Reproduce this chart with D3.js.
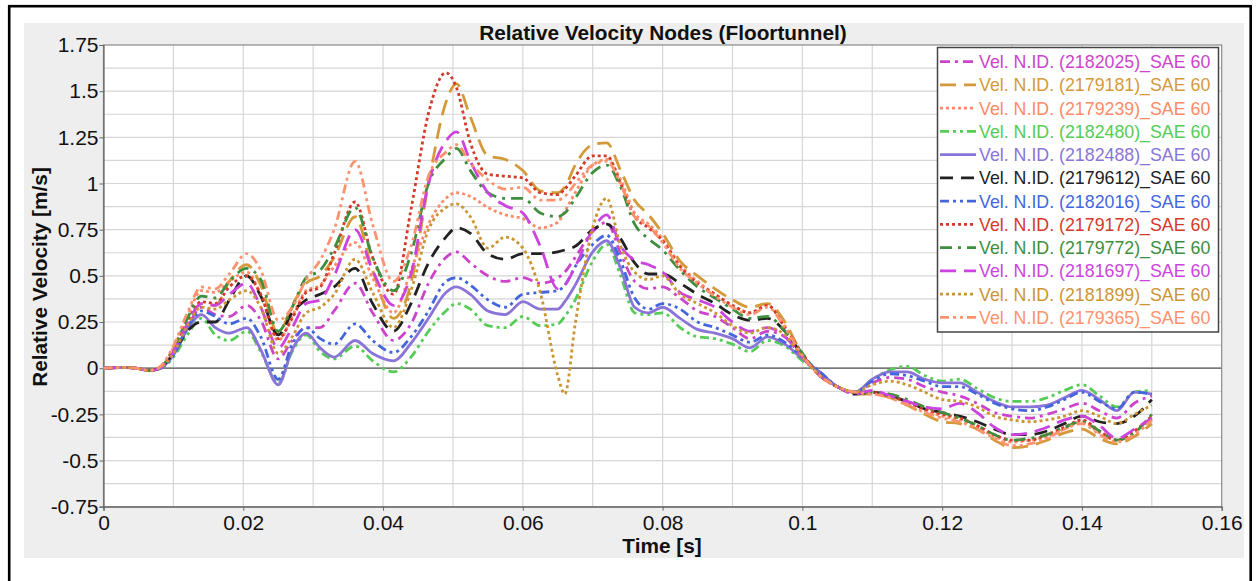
<!DOCTYPE html>
<html>
<head>
<meta charset="utf-8">
<script src="https://cdn.jsdelivr.net/npm/d3@7"></script>
<style>
  html, body { margin: 0; padding: 0; background: #fff; }
  svg { display: block; font-family: "Liberation Sans", Arial, sans-serif; }
</style>
</head>
<body>
<svg id="chart" width="1259" height="581"></svg>
<script>
// Sample times [s]
const time = [0, 0.003, 0.005, 0.0065, 0.008, 0.010, 0.012, 0.014, 0.016, 0.018, 0.0205, 0.0225, 0.025, 0.027, 0.029,
  0.031, 0.033, 0.036, 0.0385, 0.0415, 0.044, 0.0465, 0.049, 0.0505, 0.0525, 0.055, 0.0575, 0.060, 0.0625, 0.065,
  0.066, 0.0675, 0.070, 0.072, 0.074, 0.076, 0.078, 0.080, 0.0825, 0.085, 0.0875, 0.090, 0.0925, 0.095, 0.0975,
  0.100, 0.1025, 0.105, 0.1075, 0.110, 0.1125, 0.115, 0.1175, 0.120, 0.1225, 0.125, 0.1275, 0.130, 0.1325, 0.135,
  0.1375, 0.140, 0.1425, 0.145, 0.1475, 0.150];

// Relative velocity [m/s] per node (SAE 60 filtered)
const vel2182025 = [0, 0.004, -0.002, -0.013, 0.0, 0.08, 0.22, 0.33, 0.29, 0.28, 0.34, 0.26, 0.05, 0.15, 0.22,
  0.22, 0.31, 0.46, 0.30, 0.15, 0.24, 0.46, 0.60, 0.63, 0.57, 0.50, 0.47, 0.49, 0.46, 0.49,
  0.52, 0.60, 0.74, 0.79, 0.62, 0.47, 0.43, 0.44, 0.38, 0.31, 0.28, 0.22, 0.16, 0.20, 0.17,
  0.06, -0.03, -0.10, -0.13, -0.08, -0.05, -0.06, -0.10, -0.13, -0.15, -0.19, -0.24, -0.26, -0.27, -0.25,
  -0.22, -0.19, -0.23, -0.27, -0.19, -0.15];
const vel2179181 = [0, 0.004, -0.002, -0.013, 0.0, 0.09, 0.24, 0.35, 0.34, 0.47, 0.56, 0.45, 0.19, 0.34, 0.46,
  0.50, 0.60, 0.82, 0.53, 0.27, 0.46, 1.00, 1.44, 1.54, 1.36, 1.15, 1.13, 1.07, 0.96, 0.95,
  0.98, 1.10, 1.21, 1.22, 1.07, 0.91, 0.83, 0.73, 0.58, 0.50, 0.43, 0.37, 0.33, 0.35, 0.25,
  0.07, -0.04, -0.10, -0.14, -0.14, -0.16, -0.20, -0.25, -0.29, -0.30, -0.33, -0.39, -0.43, -0.42, -0.39,
  -0.35, -0.33, -0.38, -0.41, -0.37, -0.30];
const vel2179239 = [0, 0.004, -0.002, -0.012, 0.003, 0.11, 0.28, 0.42, 0.41, 0.47, 0.52, 0.40, 0.15, 0.28, 0.42,
  0.45, 0.55, 0.68, 0.49, 0.30, 0.53, 0.78, 0.92, 0.95, 0.93, 0.87, 0.83, 0.81, 0.76, 0.79,
  0.85, 0.95, 1.10, 1.13, 1.02, 0.84, 0.78, 0.70, 0.56, 0.47, 0.40, 0.34, 0.30, 0.34, 0.23,
  0.07, -0.04, -0.10, -0.13, -0.13, -0.15, -0.19, -0.23, -0.26, -0.28, -0.32, -0.37, -0.40, -0.39, -0.37,
  -0.33, -0.29, -0.35, -0.39, -0.35, -0.27];
const vel2182480 = [0, 0.004, -0.002, -0.013, -0.004, 0.06, 0.18, 0.27, 0.18, 0.15, 0.20, 0.09, -0.08, 0.09, 0.18,
  0.09, 0.05, 0.12, 0.04, -0.02, 0.06, 0.20, 0.31, 0.35, 0.32, 0.23, 0.22, 0.28, 0.23, 0.24,
  0.28, 0.37, 0.58, 0.67, 0.50, 0.30, 0.29, 0.30, 0.22, 0.17, 0.16, 0.13, 0.09, 0.15, 0.12,
  0.04, -0.02, -0.10, -0.13, -0.06, -0.01, 0.01, -0.04, -0.07, -0.06, -0.11, -0.16, -0.18, -0.18, -0.16,
  -0.12, -0.09, -0.15, -0.21, -0.13, -0.12];
const vel2182488 = [0, 0.004, -0.002, -0.013, -0.003, 0.07, 0.21, 0.29, 0.22, 0.19, 0.22, 0.10, -0.09, 0.10, 0.19,
  0.11, 0.06, 0.15, 0.08, 0.04, 0.135, 0.27, 0.41, 0.44, 0.40, 0.31, 0.29, 0.36, 0.32, 0.32,
  0.36, 0.45, 0.63, 0.69, 0.54, 0.33, 0.30, 0.33, 0.27, 0.21, 0.19, 0.16, 0.11, 0.17, 0.13,
  0.05, -0.02, -0.10, -0.13, -0.06, -0.02, -0.02, -0.06, -0.08, -0.08, -0.13, -0.18, -0.21, -0.21, -0.20,
  -0.16, -0.12, -0.17, -0.23, -0.13, -0.14];
const vel2179612 = [0, 0.004, -0.002, -0.013, 0.0, 0.08, 0.20, 0.25, 0.25, 0.37, 0.50, 0.39, 0.18, 0.30, 0.37,
  0.40, 0.44, 0.54, 0.35, 0.20, 0.35, 0.57, 0.71, 0.76, 0.73, 0.62, 0.59, 0.62, 0.62, 0.63,
  0.64, 0.66, 0.75, 0.78, 0.70, 0.57, 0.51, 0.51, 0.46, 0.40, 0.35, 0.29, 0.26, 0.27, 0.20,
  0.07, -0.04, -0.10, -0.14, -0.13, -0.15, -0.18, -0.22, -0.24, -0.26, -0.29, -0.33, -0.36, -0.36, -0.34,
  -0.30, -0.26, -0.29, -0.30, -0.26, -0.17];
const vel2182016 = [0, 0.004, -0.002, -0.013, -0.003, 0.07, 0.22, 0.31, 0.28, 0.24, 0.27, 0.17, -0.06, 0.13, 0.22,
  0.16, 0.13, 0.24, 0.15, 0.085, 0.17, 0.31, 0.47, 0.49, 0.45, 0.37, 0.33, 0.40, 0.41, 0.42,
  0.45, 0.55, 0.67, 0.72, 0.58, 0.38, 0.32, 0.35, 0.32, 0.25, 0.22, 0.18, 0.14, 0.18, 0.14,
  0.06, -0.02, -0.10, -0.13, -0.07, -0.03, -0.04, -0.07, -0.10, -0.10, -0.14, -0.19, -0.22, -0.23, -0.21,
  -0.17, -0.13, -0.18, -0.22, -0.13, -0.14];
const vel2179172 = [0, 0.004, -0.002, -0.013, 0.0, 0.09, 0.25, 0.36, 0.35, 0.44, 0.50, 0.40, 0.16, 0.27, 0.41,
  0.44, 0.62, 0.90, 0.60, 0.40, 0.86, 1.38, 1.60, 1.52, 1.22, 1.05, 1.04, 1.03, 0.95, 0.94,
  0.97, 1.04, 1.15, 1.15, 1.00, 0.82, 0.76, 0.69, 0.55, 0.46, 0.40, 0.34, 0.30, 0.34, 0.22,
  0.08, -0.04, -0.10, -0.13, -0.13, -0.15, -0.18, -0.22, -0.25, -0.27, -0.31, -0.36, -0.39, -0.39, -0.36,
  -0.32, -0.28, -0.34, -0.39, -0.34, -0.26];
const vel2179772 = [0, 0.004, -0.002, -0.013, 0.002, 0.10, 0.27, 0.39, 0.38, 0.47, 0.54, 0.48, 0.20, 0.33, 0.49,
  0.53, 0.65, 0.87, 0.60, 0.42, 0.62, 1.00, 1.14, 1.19, 1.07, 0.95, 0.92, 0.92, 0.84, 0.82,
  0.84, 0.92, 1.06, 1.10, 0.98, 0.78, 0.70, 0.64, 0.53, 0.44, 0.38, 0.32, 0.27, 0.28, 0.20,
  0.08, -0.04, -0.10, -0.13, -0.13, -0.14, -0.17, -0.21, -0.24, -0.27, -0.31, -0.36, -0.39, -0.38, -0.36,
  -0.32, -0.29, -0.34, -0.39, -0.35, -0.25];
const vel2181697 = [0, 0.004, -0.002, -0.013, 0.0, 0.09, 0.24, 0.35, 0.34, 0.40, 0.46, 0.33, 0.11, 0.22, 0.35,
  0.37, 0.50, 0.75, 0.53, 0.34, 0.51, 1.00, 1.23, 1.28, 1.12, 0.95, 0.88, 0.84, 0.66, 0.43,
  0.45, 0.55, 0.75, 0.83, 0.66, 0.585, 0.56, 0.52, 0.41, 0.37, 0.33, 0.25, 0.20, 0.22, 0.17,
  0.06, -0.04, -0.10, -0.14, -0.12, -0.15, -0.18, -0.21, -0.22, -0.19, -0.24, -0.32, -0.36, -0.35, -0.32,
  -0.28, -0.26, -0.31, -0.38, -0.33, -0.27];
const vel2181899 = [0, 0.004, -0.002, -0.013, 0.0, 0.08, 0.23, 0.33, 0.32, 0.37, 0.42, 0.33, 0.08, 0.17, 0.30,
  0.33, 0.40, 0.59, 0.41, 0.22, 0.42, 0.75, 0.87, 0.89, 0.82, 0.65, 0.71, 0.65, 0.41, -0.04,
  -0.14, 0.24, 0.76, 0.92, 0.66, 0.52, 0.48, 0.50, 0.40, 0.35, 0.30, 0.23, 0.19, 0.22, 0.18,
  0.06, -0.04, -0.10, -0.13, -0.09, -0.07, -0.09, -0.13, -0.17, -0.18, -0.21, -0.26, -0.28, -0.29, -0.28,
  -0.26, -0.23, -0.26, -0.30, -0.25, -0.20];
const vel2179365 = [0, 0.004, -0.002, -0.012, 0.005, 0.12, 0.30, 0.44, 0.43, 0.51, 0.62, 0.53, 0.26, 0.33, 0.48,
  0.585, 0.75, 1.12, 0.78, 0.47, 0.66, 1.04, 1.17, 1.21, 1.11, 1.02, 0.97, 0.98, 0.91, 0.91,
  0.93, 1.00, 1.10, 1.12, 1.00, 0.82, 0.77, 0.68, 0.54, 0.46, 0.39, 0.33, 0.29, 0.33, 0.22,
  0.07, -0.04, -0.10, -0.13, -0.14, -0.16, -0.20, -0.24, -0.27, -0.29, -0.33, -0.38, -0.42, -0.41, -0.38,
  -0.33, -0.30, -0.36, -0.40, -0.36, -0.28];

const seriesLabels = [
  "Vel. N.ID. (2182025)_SAE 60", "Vel. N.ID. (2179181)_SAE 60", "Vel. N.ID. (2179239)_SAE 60",
  "Vel. N.ID. (2182480)_SAE 60", "Vel. N.ID. (2182488)_SAE 60", "Vel. N.ID. (2179612)_SAE 60",
  "Vel. N.ID. (2182016)_SAE 60", "Vel. N.ID. (2179172)_SAE 60", "Vel. N.ID. (2179772)_SAE 60",
  "Vel. N.ID. (2181697)_SAE 60", "Vel. N.ID. (2181899)_SAE 60", "Vel. N.ID. (2179365)_SAE 60"
];
const seriesValues = [vel2182025, vel2179181, vel2179239, vel2182480, vel2182488, vel2179612,
  vel2182016, vel2179172, vel2179772, vel2181697, vel2181899, vel2179365];

// Axis ticks
const xTickValues = [0, 0.02, 0.04, 0.06, 0.08, 0.1, 0.12, 0.14, 0.16];
const xTickLabels = ["0", "0.02", "0.04", "0.06", "0.08", "0.1", "0.12", "0.14", "0.16"];
const yTickValues = [-0.75, -0.5, -0.25, 0, 0.25, 0.5, 0.75, 1, 1.25, 1.5, 1.75];
const yTickLabels = ["-0.75", "-0.5", "-0.25", "0", "0.25", "0.5", "0.75", "1", "1.25", "1.5", "1.75"];

// Line styles
const seriesColors = ["#cc44cc", "#d49a3a", "#ff8a66", "#55cc55", "#8a74d8", "#222222",
  "#4466dd", "#d43a2a", "#3e8e3e", "#cc44dd", "#cc9533", "#ff926e"];
const seriesDashes = ["10,5,3,5", "16,8", "3,3", "9,4,3,4,3,4", null, "13,8",
  "9,4,3,4,3,4", "3,3", "12,6,3,6", "16,8", "3,3", "9,4,3,4,3,4"];

const svg = d3.select("#chart");

// Outer frame and panel
svg.append("rect").attr("x", 0).attr("y", 0).attr("width", 1259).attr("height", 581).attr("fill", "#fff");
svg.append("rect").attr("x", 24).attr("y", 23).attr("width", 1220).attr("height", 535).attr("fill", "#eeeeee");
svg.append("rect").attr("x", 9.2).attr("y", 6.2).attr("width", 1241.5).attr("height", 590)
  .attr("fill", "none").attr("stroke", "#000").attr("stroke-width", 2.6);

const plot = { left: 103.5, right: 1221.7, top: 45, bottom: 506.7 };
const x = d3.scaleLinear().domain([0, 0.16]).range([plot.left, plot.right]);
const y = d3.scaleLinear().domain([-0.75, 1.75]).range([plot.bottom, plot.top]);

svg.append("rect").attr("x", plot.left).attr("y", plot.top)
  .attr("width", plot.right - plot.left).attr("height", plot.bottom - plot.top).attr("fill", "#fff");

// Grid
const grid = svg.append("g").attr("stroke", "#d6d6d6").attr("stroke-width", 1.2);
grid.selectAll("line.v").data(d3.range(1, 16).map(i => i * 0.01)).join("line")
  .attr("x1", d => x(d)).attr("x2", d => x(d)).attr("y1", plot.top).attr("y2", plot.bottom);
grid.selectAll("line.h").data(d3.range(1, 20).map(i => -0.75 + i * 0.125)).join("line")
  .attr("x1", plot.left).attr("x2", plot.right).attr("y1", d => y(d)).attr("y2", d => y(d));

// Zero line
svg.append("line").attr("x1", plot.left).attr("x2", plot.right).attr("y1", y(0)).attr("y2", y(0))
  .attr("stroke", "#555").attr("stroke-width", 1.2);

// Plot border
svg.append("rect").attr("x", plot.left).attr("y", plot.top)
  .attr("width", plot.right - plot.left).attr("height", plot.bottom - plot.top)
  .attr("fill", "none").attr("stroke", "#8a8a8a").attr("stroke-width", 1.2);

// Axes
const xAxis = d3.axisBottom(x).tickValues(xTickValues).tickSize(4).tickPadding(4)
  .tickFormat((d, i) => xTickLabels[i]);
const yAxis = d3.axisLeft(y).tickValues(yTickValues).tickSize(4).tickPadding(1)
  .tickFormat((d, i) => yTickLabels[i]);

const gx = svg.append("g").attr("transform", `translate(0,${plot.bottom})`).call(xAxis);
const gy = svg.append("g").attr("transform", `translate(${plot.left},0)`).call(yAxis);
[gx, gy].forEach(g => {
  g.select(".domain").attr("stroke", "#666").attr("stroke-width", 1.2);
  g.selectAll(".tick line").attr("stroke", "#666");
  g.selectAll(".tick text").attr("fill", "#111").attr("font-size", 21)
    .attr("font-family", "'Liberation Sans', Arial, sans-serif");
});

// Curves
const line = d3.line()
  .x((d, i) => x(time[i]))
  .y(d => y(d))
  .curve(d3.curveMonotoneX);

const curves = svg.append("g").attr("fill", "none");
seriesValues.forEach((vals, k) => {
  curves.append("path")
    .attr("d", line(vals))
    .attr("stroke", seriesColors[k])
    .attr("stroke-width", 2.8)
    .attr("stroke-dasharray", seriesDashes[k])
    .attr("stroke-linejoin", "round");
});

// Titles
svg.append("text").attr("x", 663).attr("y", 40).attr("text-anchor", "middle")
  .attr("font-size", 20.8).attr("font-weight", "bold").attr("fill", "#111")
  .text("Relative Velocity Nodes (Floortunnel)");
svg.append("text").attr("x", 662).attr("y", 553).attr("text-anchor", "middle")
  .attr("font-size", 20.8).attr("font-weight", "bold").attr("fill", "#111")
  .text("Time [s]");
svg.append("text").attr("transform", "translate(47,277) rotate(-90)").attr("text-anchor", "middle")
  .attr("font-size", 20.8).attr("font-weight", "bold").attr("fill", "#111")
  .text("Relative Velocity [m/s]");

// Legend
const legend = svg.append("g");
legend.append("rect").attr("x", 937.5).attr("y", 47.5).attr("width", 281).attr("height", 284.5)
  .attr("fill", "#fff").attr("stroke", "#444").attr("stroke-width", 1.5);
seriesLabels.forEach((lab, k) => {
  const cy = 61.7 + k * 23.24;
  legend.append("line").attr("x1", 940).attr("x2", 976).attr("y1", cy).attr("y2", cy)
    .attr("stroke", seriesColors[k]).attr("stroke-width", 2.8)
    .attr("stroke-dasharray", seriesDashes[k]);
  legend.append("text").attr("x", 979).attr("y", cy + 6.5)
    .attr("font-size", 17.8).attr("fill", seriesColors[k]).text(lab);
});
</script>
</body>
</html>
